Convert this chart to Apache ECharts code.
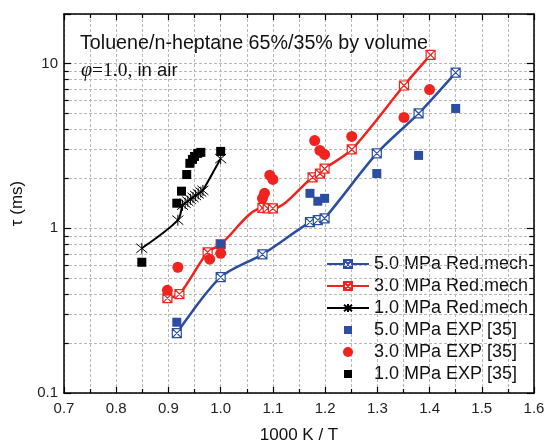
<!DOCTYPE html>
<html>
<head>
<meta charset="utf-8">
<script src="https://cdn.jsdelivr.net/npm/echarts@6/dist/echarts.min.js"></script>
<style>html,body{margin:0;padding:0;background:#fff}#c{width:546px;height:443px}</style>
</head>
<body>
<div id="c"></div>
<script>
// ---- data (x = 1000 K / T, y = tau in ms) ----
const mech5x = [0.916, 1.0, 1.08, 1.171, 1.186, 1.199, 1.299, 1.379, 1.45];
const mech5y = [0.231, 0.505, 0.695, 1.09, 1.12, 1.15, 2.85, 4.98, 8.82];
const mech3x = [0.898, 0.921, 0.975, 1.0, 1.08, 1.09, 1.10, 1.176, 1.19, 1.199, 1.251, 1.351, 1.402];
const mech3y = [0.377, 0.398, 0.715, 0.80, 1.33, 1.32, 1.32, 2.04, 2.15, 2.30, 3.01, 7.36, 11.3];
const mech1x = [0.849, 0.918, 0.927, 0.932, 0.937, 0.942, 0.947, 0.952, 0.957, 0.962, 0.966, 1.0];
const mech1y = [0.756, 1.12, 1.38, 1.42, 1.46, 1.50, 1.54, 1.58, 1.62, 1.66, 1.70, 2.65];
const exp5x = [0.916, 1.0, 1.171, 1.186, 1.199, 1.299, 1.379, 1.45];
const exp5y = [0.269, 0.80, 1.63, 1.46, 1.52, 2.15, 2.77, 5.34];
const exp3x = [0.898, 0.918, 0.979, 1.0, 1.08, 1.084, 1.094, 1.1, 1.18, 1.19, 1.199, 1.251, 1.351, 1.4];
const exp3y = [0.42, 0.58, 0.649, 0.705, 1.52, 1.63, 2.10, 1.98, 3.41, 2.97, 2.81, 3.61, 4.71, 6.95];
const exp1x = [0.849, 0.916, 0.925, 0.935, 0.941, 0.946, 0.950, 0.956, 0.962, 1.0];
const exp1y = [0.622, 1.42, 1.68, 2.12, 2.48, 2.62, 2.73, 2.85, 2.89, 2.93];
const seriesNames = ['5.0 MPa Red.mech', '3.0 MPa Red.mech', '1.0 MPa Red.mech', '5.0 MPa EXP [35]', '3.0 MPa EXP [35]', '1.0 MPa EXP [35]'];
const yMinorValues = [0.2, 0.3, 0.4, 0.5, 0.6, 0.7, 0.8, 0.9, 2, 3, 4, 5, 6, 7, 8, 9];
const xMin = 0.7, xMax = 1.6, yMin = 0.1, yMax = 20;

const zip = (a, b) => a.map((v, i) => [v, b[i]]);
const BLUE = '#2b4ea3', RED = '#f0231f', BLACK = '#000';
const FONT = '"Liberation Sans", Arial, sans-serif';
const crossSq = 'path://M0,0L10,0L10,10L0,10Z M0,0L10,10 M10,0L0,10';
const aster = 'path://M0,0L10,10 M10,0L0,10 M5,-1L5,11';
const legendSquare = 'path://M0,0L0,0 M42,10L42,10 M17,1L25,1L25,9L17,9Z';

const gridLines = yMinorValues.map(v => [{coord: [xMin, v]}, {coord: [xMax, v]}]);
const tickLen = 0.009;
const yTicks = [];
yMinorValues.forEach(v => {
  yTicks.push([{coord: [xMin, v]}, {coord: [xMin + tickLen, v]}]);
  yTicks.push([{coord: [xMax - tickLen, v]}, {coord: [xMax, v]}]);
});

const axisCommonX = {
  type: 'value', min: xMin, max: xMax, interval: 0.1,
  axisLine: {show: true, onZero: false, lineStyle: {color: '#000', width: 1.5}},
  axisTick: {show: true, inside: true, length: 6, lineStyle: {color: '#000', width: 1.2}},
  minorTick: {show: true, splitNumber: 2, length: 4, lineStyle: {color: '#000', width: 1.2}},
};
const axisCommonY = {
  type: 'log', logBase: 10, min: yMin, max: yMax,
  axisLine: {show: true, onZero: false, lineStyle: {color: '#000', width: 1.5}},
  axisTick: {show: true, inside: true, length: 7, lineStyle: {color: '#000', width: 1.2}},
};

const legendData = seriesNames.map((n, i) => ((i === 3 || i === 5) ? {name: n, icon: legendSquare} : {name: n}));

const chart = echarts.init(document.getElementById('c'), null, {renderer: 'canvas'});
chart.setOption({
  animation: false,
  backgroundColor: '#fff',
  textStyle: {fontFamily: FONT},
  grid: {left: 64, right: 12, top: 14, bottom: 50, containLabel: false, outerBoundsMode: 'none'},
  graphic: [
    {type: 'text', left: 80, top: 34, z: 100,
     style: {text: 'Toluene/n-heptane 65%/35% by volume', font: '19.7px ' + FONT, fill: '#111'}},
    {type: 'text', left: 81, top: 61, z: 100,
     style: {text: '{p|φ}{t|=1.0,}{s| in air}', fill: '#111',
       rich: {
         p: {fontFamily: '"Liberation Serif", serif', fontStyle: 'italic', fontSize: 20, fill: '#111'},
         t: {fontFamily: '"Liberation Serif", serif', fontSize: 19.5, fill: '#111'},
         s: {fontFamily: FONT, fontSize: 18.5, fill: '#111'}
       }}}
  ],
  xAxis: [
    Object.assign({}, axisCommonX, {
      position: 'bottom',
      splitLine: {show: true, lineStyle: {type: [3, 2], color: '#b8b8b8', width: 1}},
      minorSplitLine: {show: true, lineStyle: {type: [3, 2], color: '#b8b8b8', width: 1}},
      axisLabel: {fontSize: 15, color: '#222', margin: 8, fontFamily: FONT, formatter: v => v.toFixed(1)},
      name: '1000 K / T', nameLocation: 'middle', nameGap: 34,
      nameTextStyle: {fontSize: 17, color: '#111', fontFamily: FONT}
    }),
    Object.assign({}, axisCommonX, {
      position: 'top', splitLine: {show: false}, axisLabel: {show: false}
    })
  ],
  yAxis: [
    Object.assign({}, axisCommonY, {
      position: 'left',
      splitLine: {show: true, lineStyle: {type: [3, 2], color: '#b8b8b8', width: 1}},
      axisLabel: {fontSize: 15, color: '#222', margin: 6, fontFamily: FONT,
        formatter: v => (v > 15 ? '' : String(+v.toPrecision(3)))},
      name: 'τ (ms)', nameLocation: 'middle', nameGap: 36, nameRotate: 90,
      nameTextStyle: {fontSize: 17, color: '#111', fontFamily: FONT}
    }),
    Object.assign({}, axisCommonY, {
      position: 'right', splitLine: {show: false}, axisLabel: {show: false}
    })
  ],
  legend: {
    orient: 'vertical', left: 326, top: 255, padding: 0, itemWidth: 42, itemHeight: 10, itemGap: 4,
    data: legendData,
    textStyle: {fontSize: 18, lineHeight: 18, color: '#111', fontFamily: FONT}
  },
  series: [
    {type: 'line', name: '_grid', data: [], silent: true, symbol: 'none', z: 1,
     markLine: {silent: true, symbol: 'none', label: {show: false}, animation: false,
       lineStyle: {type: [3, 2], color: '#b8b8b8', width: 1},
       data: gridLines}},
    {type: 'line', name: '_ticks', data: [], silent: true, symbol: 'none', z: 3,
     markLine: {silent: true, symbol: 'none', label: {show: false}, animation: false,
       lineStyle: {type: 'solid', color: '#000', width: 1.2},
       data: yTicks}},
    {type: 'line', name: seriesNames[0], data: zip(mech5x, mech5y), smooth: 0.3,
     symbol: crossSq, symbolSize: 9,
     lineStyle: {color: BLUE, width: 2.5}, itemStyle: {color: '#fff', borderColor: BLUE, borderWidth: 1.2}, z: 5},
    {type: 'line', name: seriesNames[1], data: zip(mech3x, mech3y), smooth: 0.3,
     symbol: crossSq, symbolSize: 9,
     lineStyle: {color: RED, width: 2.5}, itemStyle: {color: '#fff', borderColor: RED, borderWidth: 1.2}, z: 5},
    {type: 'line', name: seriesNames[2], data: zip(mech1x, mech1y), smooth: 0.3,
     symbol: aster, symbolSize: 11,
     lineStyle: {color: BLACK, width: 2}, itemStyle: {color: BLACK, borderColor: BLACK, borderWidth: 1}, z: 5},
    {type: 'scatter', name: seriesNames[3], data: zip(exp5x, exp5y), symbol: 'rect', symbolSize: 9,
     itemStyle: {color: BLUE, opacity: 1}, z: 6},
    {type: 'scatter', name: seriesNames[4], data: zip(exp3x, exp3y), symbol: 'circle', symbolSize: 11,
     itemStyle: {color: RED, opacity: 1}, z: 6},
    {type: 'scatter', name: seriesNames[5], data: zip(exp1x, exp1y), symbol: 'rect', symbolSize: 9,
     itemStyle: {color: BLACK, opacity: 1}, z: 6}
  ]
});
</script>
</body>
</html>
